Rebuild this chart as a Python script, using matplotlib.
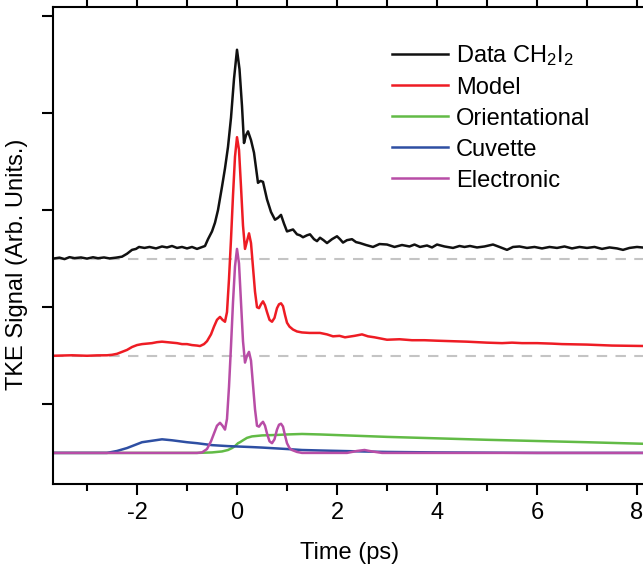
import numpy as np
import matplotlib
matplotlib.use("Agg")
import matplotlib.pyplot as plt
from matplotlib.ticker import MultipleLocator

plt.rcParams["font.family"] = ["Liberation Sans", "DejaVu Sans"]
plt.rcParams["axes.unicode_minus"] = False

# --- data (time in ps, signal in arb. units) ---
# vertical offsets of the stacked traces
OFF_DATA, OFF_MODEL = 2.0, 1.0

data_t = [-3.68, -3.55, -3.45, -3.35, -3.25, -3.12, -3.0, -2.88, -2.78, -2.66, -2.55,
          -2.42, -2.3, -2.2, -2.1, -2.02, -1.96, -1.85, -1.75, -1.62, -1.5, -1.4,
          -1.3, -1.2, -1.1, -1.0, -0.9, -0.8, -0.72, -0.64, -0.58, -0.5, -0.44,
          -0.38, -0.3, -0.24, -0.18, -0.12, -0.06, 0.0, 0.05, 0.1, 0.14, 0.18,
          0.22, 0.28, 0.34, 0.42, 0.47, 0.52, 0.6, 0.68, 0.76, 0.82, 0.88, 0.94,
          1.0, 1.06, 1.12, 1.2, 1.26, 1.32, 1.4, 1.46, 1.54, 1.6, 1.66, 1.73, 1.8,
          1.9, 2.0, 2.06, 2.12, 2.2, 2.3, 2.38, 2.46, 2.58, 2.72, 2.85, 3.0,
          3.15, 3.3, 3.45, 3.55, 3.66, 3.8, 3.9, 4.0, 4.15, 4.32, 4.45, 4.55,
          4.66, 4.8, 4.95, 5.12, 5.25, 5.4, 5.52, 5.65, 5.8, 5.95, 6.1, 6.25,
          6.4, 6.55, 6.7, 6.85, 7.0, 7.15, 7.3, 7.45, 7.6, 7.72, 7.85, 8.0, 8.2]
data_y = [0.0, 0.01, -0.005, 0.015, 0.005, 0.012, 0.0, 0.014, 0.004, 0.012, 0.002,
          0.01, 0.02, 0.05, 0.09, 0.1, 0.12, 0.11, 0.12, 0.105, 0.125, 0.115,
          0.13, 0.11, 0.12, 0.105, 0.12, 0.1, 0.115, 0.13, 0.2, 0.28, 0.37,
          0.5, 0.74, 0.93, 1.15, 1.45, 1.85, 2.15, 1.95, 1.57, 1.19, 1.27,
          1.31, 1.22, 1.09, 0.78, 0.8, 0.79, 0.61, 0.48, 0.4, 0.42, 0.45, 0.36,
          0.28, 0.29, 0.3, 0.25, 0.24, 0.22, 0.24, 0.25, 0.2, 0.18, 0.215, 0.19, 0.16,
          0.2, 0.23, 0.2, 0.165, 0.19, 0.2, 0.17, 0.16, 0.14, 0.12, 0.15, 0.145,
          0.12, 0.14, 0.125, 0.145, 0.12, 0.135, 0.115, 0.145, 0.125, 0.11, 0.13, 0.12,
          0.13, 0.115, 0.125, 0.145, 0.12, 0.09, 0.12, 0.125, 0.11, 0.12, 0.105, 0.12,
          0.11, 0.125, 0.105, 0.12, 0.11, 0.12, 0.1, 0.115, 0.105, 0.09, 0.11, 0.12, 0.11]

model_t = [-3.68, -3.3, -3.0, -2.8, -2.6, -2.5, -2.4, -2.3, -2.2, -2.1, -2.0, -1.9,
           -1.8, -1.7, -1.6, -1.5, -1.4, -1.3, -1.2, -1.1, -1.0, -0.9, -0.8,
           -0.74, -0.66, -0.6, -0.52, -0.46, -0.4, -0.34, -0.29, -0.24, -0.2,
           -0.16, -0.12, -0.08, -0.04, 0.0, 0.04, 0.08, 0.12, 0.16, 0.2, 0.24,
           0.28, 0.32, 0.36, 0.4, 0.44, 0.48, 0.52, 0.56, 0.6, 0.65, 0.7, 0.75,
           0.8, 0.84, 0.88, 0.92, 0.96, 1.0, 1.05, 1.12, 1.2, 1.3, 1.45, 1.66,
           1.8, 1.92, 2.05, 2.16, 2.35, 2.5, 2.62, 2.75, 3.0, 3.25, 3.5, 3.75,
           4.0, 4.3, 4.6, 5.0, 5.3, 5.5, 5.7, 6.0, 6.3, 6.5, 7.0, 7.5, 8.2]
model_y = [0.0, 0.005, 0.0, 0.004, 0.005, 0.01, 0.02, 0.04, 0.06, 0.09, 0.11, 0.12,
           0.125, 0.13, 0.14, 0.145, 0.14, 0.135, 0.13, 0.12, 0.12, 0.11, 0.105,
           0.1, 0.12, 0.15, 0.22, 0.3, 0.37, 0.4, 0.37, 0.35, 0.45,
           0.79, 1.2, 1.65, 2.05, 2.25, 2.12, 1.74, 1.34, 1.1, 1.18, 1.26,
           1.16, 0.91, 0.66, 0.5, 0.49, 0.53, 0.56, 0.52, 0.45, 0.37, 0.35, 0.39,
           0.49, 0.53, 0.54, 0.51, 0.42, 0.34, 0.3, 0.27, 0.25, 0.24, 0.235, 0.235,
           0.22, 0.2, 0.205, 0.19, 0.205, 0.22, 0.2, 0.19, 0.165, 0.17, 0.16, 0.16,
           0.155, 0.15, 0.145, 0.135, 0.13, 0.135, 0.13, 0.13, 0.125, 0.12, 0.115, 0.105, 0.1]

orient_t = [-3.68, -0.8, -0.5, -0.3, -0.18, -0.1, -0.04, 0.02, 0.06, 0.12, 0.2, 0.3,
            0.5, 0.8, 1.0, 1.3, 1.66, 3.0, 5.0, 7.0, 8.2]
orient_y = [0.0, 0.0, 0.005, 0.015, 0.03, 0.05, 0.07, 0.1, 0.11, 0.13, 0.155, 0.17,
            0.18, 0.185, 0.19, 0.195, 0.19, 0.165, 0.135, 0.11, 0.093]

cuv_t = [-3.68, -2.6, -2.4, -2.2, -2.0, -1.9, -1.7, -1.5, -1.3, -1.0, -0.8, -0.5,
         -0.18, 0.3, 0.5, 1.0, 1.3, 1.66, 2.5, 3.0, 4.0, 6.0, 8.2]
cuv_y = [0.0, 0.0, 0.02, 0.05, 0.09, 0.11, 0.125, 0.14, 0.13, 0.11, 0.1, 0.08,
         0.07, 0.06, 0.055, 0.04, 0.03, 0.025, 0.015, 0.01, 0.005, 0.0, 0.0]

elec_t = [-3.68, -0.8, -0.7, -0.6, -0.52, -0.46, -0.4, -0.34, -0.29, -0.24, -0.2,
          -0.16, -0.12, -0.08, -0.04, 0.0, 0.04, 0.08, 0.12, 0.16, 0.2, 0.24, 0.28,
          0.32, 0.36, 0.4, 0.44, 0.48, 0.52, 0.56, 0.6, 0.65, 0.7, 0.75, 0.8, 0.84,
          0.88, 0.92, 0.96, 1.0, 1.05, 1.1, 1.2, 1.3, 2.2, 2.4, 2.55, 2.7, 2.9, 8.2]
elec_y = [0.0, 0.0, 0.005, 0.04, 0.12, 0.2, 0.28, 0.31, 0.28, 0.24, 0.35,
          0.68, 1.1, 1.55, 1.92, 2.1, 1.95, 1.55, 1.15, 0.93, 1.0, 1.04, 0.95,
          0.7, 0.45, 0.28, 0.27, 0.3, 0.32, 0.28, 0.2, 0.12, 0.1, 0.14, 0.24, 0.29,
          0.3, 0.27, 0.18, 0.1, 0.05, 0.03, 0.01, 0.0, 0.0, 0.02, 0.03, 0.015, 0.0, 0.0]

XMIN, XMAX = -3.68, 8.2
YMIN, YMAX = -0.32, 4.59

# --- figure ---
fig = plt.figure(figsize=(6.43, 5.72), dpi=100)
ax = fig.add_axes([53 / 643, 1 - 484 / 572, (647 - 53) / 643, (484 - 7) / 572])

for off in (OFF_DATA, OFF_MODEL):
    ax.plot([XMIN, XMAX], [off, off], color="#c4c4c4", lw=1.5, ls=(0, (5, 4)))

lw = 1.8
ax.plot(data_t, np.array(data_y) + OFF_DATA, color="#111111", lw=lw,
        label=r"Data CH$\mathregular{_2}$I$\mathregular{_2}$")
ax.plot(model_t, np.array(model_y) + OFF_MODEL, color="#ee1c24", lw=lw, label="Model")
ax.plot(orient_t, orient_y, color="#62bb46", lw=lw, label="Orientational")
ax.plot(cuv_t, cuv_y, color="#2e4fa3", lw=lw, label="Cuvette")
ax.plot(elec_t, elec_y, color="#b84da6", lw=lw, label="Electronic")

ax.set_xlim(XMIN, XMAX)
ax.set_ylim(YMIN, YMAX)
ax.xaxis.set_major_locator(MultipleLocator(2))
ax.xaxis.set_minor_locator(MultipleLocator(1))
ax.set_yticks([0.5, 1.5, 2.5, 3.5, 4.5])
ax.set_yticklabels([])
ax.tick_params(axis="x", which="both", direction="out", top=True, labeltop=False,
               labelsize=17, width=1.5, pad=5)
ax.tick_params(axis="x", which="major", length=8)
ax.tick_params(axis="x", which="minor", length=5)
ax.tick_params(axis="y", direction="out", length=8, width=1.5)
for s in ax.spines.values():
    s.set_linewidth(1.5)
ax.spines["right"].set_visible(False)

ax.set_xlabel("Time (ps)", fontsize=17, labelpad=13)
ax.set_ylabel("TKE Signal (Arb. Units.)", fontsize=17)
ax.yaxis.set_label_coords(-0.042, 0.46)

ax.legend(loc="upper left", bbox_to_anchor=(0.571, 0.925), frameon=False,
          fontsize=17, handlelength=2.35, handletextpad=0.35, labelspacing=0.38,
          borderpad=0, borderaxespad=0)

fig.savefig("out.png", dpi=100)
